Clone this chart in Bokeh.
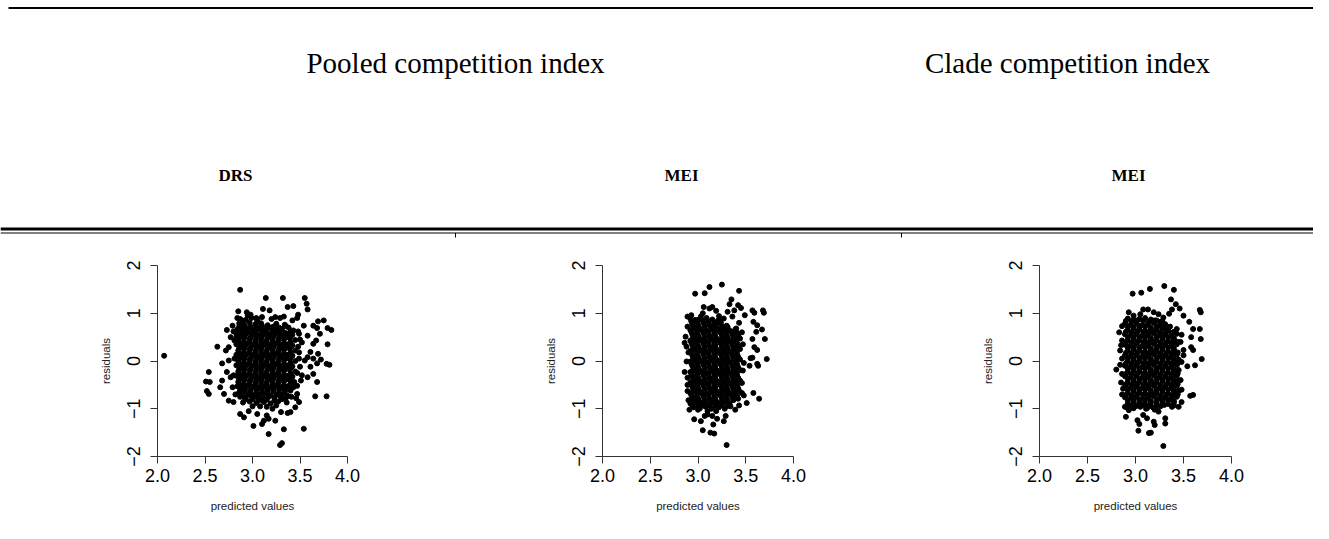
from bokeh.plotting import figure
from bokeh.layouts import column, row
from bokeh.models import Range1d, FixedTicker, Label
from bokeh.embed import file_html
from bokeh.resources import INLINE

# ---------------- data ----------------
header_titles = ["Pooled competition index", "Clade competition index"]
sub_titles = ["DRS", "MEI", "MEI"]
x_label = "predicted values"
y_label = "residuals"
x_ticks = [2.0, 2.5, 3.0, 3.5, 4.0]
x_tick_labels = ["2.0", "2.5", "3.0", "3.5", "4.0"]
y_ticks = [-2, -1, 0, 1, 2]
y_tick_labels = ["\u22122", "\u22121", "0", "1", "2"]

# Panel 1 (Pooled, DRS)
p1_core = [
    (2.86,0.79),(2.91,0.76),(2.97,0.80),(3.03,0.77),(3.09,0.79),(3.16,0.75),(3.25,0.78),(3.34,0.76),
    (2.84,0.66),(2.89,0.69),(2.95,0.67),(3.01,0.65),(3.07,0.68),(3.13,0.66),(3.19,0.69),(3.25,0.65),(3.31,0.67),(3.38,0.70),(3.43,0.64),
    (2.83,0.57),(2.88,0.55),(2.94,0.58),(3.00,0.56),(3.06,0.54),(3.12,0.57),(3.18,0.55),(3.24,0.58),(3.30,0.54),(3.36,0.57),(3.42,0.55),
    (2.85,0.44),(2.91,0.47),(2.97,0.45),(3.03,0.43),(3.09,0.46),(3.15,0.44),(3.21,0.47),(3.27,0.43),(3.33,0.45),(3.39,0.48),(3.45,0.44),
    (2.83,0.35),(2.88,0.33),(2.94,0.36),(3.00,0.34),(3.06,0.32),(3.12,0.35),(3.18,0.33),(3.24,0.36),(3.30,0.32),(3.36,0.35),(3.42,0.33),
    (2.85,0.22),(2.91,0.25),(2.97,0.23),(3.03,0.21),(3.09,0.24),(3.15,0.22),(3.21,0.25),(3.27,0.21),(3.33,0.23),(3.39,0.26),(3.45,0.22),
    (2.83,0.13),(2.88,0.11),(2.94,0.14),(3.00,0.12),(3.06,0.10),(3.12,0.13),(3.18,0.11),(3.24,0.14),(3.30,0.10),(3.36,0.13),(3.42,0.11),
    (2.85,0.00),(2.91,0.03),(2.97,0.01),(3.03,-0.01),(3.09,0.02),(3.15,0.00),(3.21,0.03),(3.27,-0.01),(3.33,0.01),(3.39,0.04),(3.45,0.00),
    (2.83,-0.09),(2.88,-0.11),(2.94,-0.08),(3.00,-0.10),(3.06,-0.12),(3.12,-0.09),(3.18,-0.11),(3.24,-0.08),(3.30,-0.12),(3.36,-0.09),(3.42,-0.11),
    (2.85,-0.22),(2.91,-0.19),(2.97,-0.21),(3.03,-0.23),(3.09,-0.20),(3.15,-0.22),(3.21,-0.19),(3.27,-0.23),(3.33,-0.21),(3.39,-0.18),(3.45,-0.22),
    (2.83,-0.31),(2.88,-0.33),(2.94,-0.30),(3.00,-0.32),(3.06,-0.34),(3.12,-0.31),(3.18,-0.33),(3.24,-0.30),(3.30,-0.34),(3.36,-0.31),(3.42,-0.33),
    (2.85,-0.44),(2.91,-0.41),(2.97,-0.43),(3.03,-0.45),(3.09,-0.42),(3.15,-0.44),(3.21,-0.41),(3.27,-0.45),(3.33,-0.43),(3.39,-0.40),(3.44,-0.44),
    (2.84,-0.53),(2.89,-0.55),(2.95,-0.52),(3.01,-0.54),(3.07,-0.56),(3.13,-0.53),(3.19,-0.55),(3.25,-0.52),(3.31,-0.56),(3.37,-0.53),(3.43,-0.55),
    (2.86,-0.66),(2.92,-0.63),(2.98,-0.65),(3.04,-0.67),(3.10,-0.64),(3.16,-0.66),(3.22,-0.63),(3.28,-0.67),(3.34,-0.65),(3.40,-0.62),
    (2.87,-0.75),(2.93,-0.77),(2.99,-0.74),(3.05,-0.76),(3.11,-0.78),(3.17,-0.75),(3.23,-0.77),(3.29,-0.74),(3.35,-0.78),(3.41,-0.75),
    (2.90,-0.87),(2.97,-0.85),(3.04,-0.88),(3.12,-0.86),(3.19,-0.89),(3.27,-0.85),(3.36,-0.87),
    (2.87,0.88),(2.93,0.86),(2.99,0.90),(3.05,0.87),
]
p1_fill = [
    (2.86,0.72),(2.92,0.73),(2.98,0.71),(3.04,0.72),(3.10,0.74),(3.16,0.71),(3.22,0.72),(3.28,0.70),(3.35,0.73),
    (2.86,0.61),(2.91,0.62),(2.97,0.60),(3.03,0.61),(3.09,0.63),(3.15,0.60),(3.21,0.62),(3.28,0.61),(3.34,0.59),(3.40,0.62),
    (2.86,0.50),(2.92,0.51),(2.98,0.49),(3.04,0.50),(3.10,0.52),(3.16,0.49),(3.22,0.51),(3.28,0.50),(3.34,0.48),(3.40,0.51),
    (2.86,0.39),(2.91,0.40),(2.97,0.38),(3.03,0.39),(3.09,0.41),(3.15,0.38),(3.21,0.40),(3.27,0.39),(3.33,0.37),(3.40,0.40),
    (2.86,0.28),(2.92,0.29),(2.98,0.27),(3.04,0.28),(3.10,0.30),(3.16,0.27),(3.22,0.29),(3.28,0.28),(3.34,0.26),(3.40,0.29),
    (2.86,0.17),(2.91,0.18),(2.97,0.16),(3.03,0.17),(3.09,0.19),(3.15,0.16),(3.21,0.18),(3.27,0.17),(3.33,0.15),(3.40,0.18),
    (2.86,0.06),(2.92,0.07),(2.98,0.05),(3.04,0.06),(3.10,0.08),(3.16,0.05),(3.22,0.07),(3.28,0.06),(3.34,0.04),(3.40,0.07),
    (2.86,-0.05),(2.91,-0.04),(2.97,-0.06),(3.03,-0.05),(3.09,-0.03),(3.15,-0.06),(3.21,-0.04),(3.27,-0.05),(3.33,-0.07),(3.40,-0.04),
    (2.86,-0.16),(2.92,-0.15),(2.98,-0.17),(3.04,-0.16),(3.10,-0.14),(3.16,-0.17),(3.22,-0.15),(3.28,-0.16),(3.34,-0.18),(3.40,-0.15),
    (2.86,-0.27),(2.91,-0.26),(2.97,-0.28),(3.03,-0.27),(3.09,-0.25),(3.15,-0.28),(3.21,-0.26),(3.27,-0.27),(3.33,-0.29),(3.40,-0.26),
    (2.86,-0.38),(2.92,-0.37),(2.98,-0.39),(3.04,-0.38),(3.10,-0.36),(3.16,-0.39),(3.22,-0.37),(3.28,-0.38),(3.34,-0.40),(3.40,-0.37),
    (2.86,-0.49),(2.91,-0.48),(2.97,-0.50),(3.03,-0.49),(3.09,-0.47),(3.15,-0.50),(3.21,-0.48),(3.27,-0.49),(3.33,-0.51),(3.40,-0.48),
    (2.87,-0.60),(2.92,-0.59),(2.98,-0.61),(3.04,-0.60),(3.10,-0.58),(3.16,-0.61),(3.22,-0.59),(3.28,-0.60),(3.34,-0.62),(3.39,-0.59),
    (2.89,-0.71),(2.95,-0.70),(3.01,-0.72),(3.07,-0.71),(3.13,-0.69),(3.19,-0.72),(3.25,-0.70),(3.31,-0.71),(3.37,-0.73),
    (2.92,-0.81),(3.00,-0.80),(3.07,-0.82),(3.15,-0.81),(3.23,-0.83),(3.31,-0.80),
]
p1_outer = [
    (2.07,0.11),(2.87,1.49),(3.14,1.32),(3.32,1.32),(3.55,1.32),(3.57,1.20),(3.11,1.09),(3.18,1.06),
    (3.43,1.15),(3.37,1.13),(3.48,0.97),(3.58,1.08),(2.85,1.04),(2.94,1.02),(2.98,0.97),(3.04,0.90),
    (3.24,0.92),(3.29,0.90),(3.33,0.93),(3.42,0.85),(3.47,0.90),(2.84,0.90),(2.89,0.85),(3.05,0.83),
    (3.69,0.83),(3.75,0.85),(3.64,0.74),(3.79,0.69),(3.83,0.65),(3.68,0.69),
    (3.54,0.74),(3.49,0.57),(3.58,0.53),(3.71,0.57),(3.67,0.43),(3.64,0.36),(3.79,0.35),(3.52,0.39),
    (3.61,0.19),(3.69,0.15),(3.58,0.08),(3.64,0.05),(3.72,0.03),(3.55,0.01),(3.49,0.05),(3.61,-0.12),
    (3.68,-0.05),(3.78,-0.06),(3.81,-0.08),(3.52,-0.30),(3.58,-0.34),(3.64,-0.27),(3.68,-0.44),(3.51,-0.41),
    (3.66,-0.74),(3.78,-0.74),(3.47,-0.69),(3.49,-0.86),(3.54,-1.42),
    (3.30,-1.07),(3.37,-1.09),(3.21,-1.00),(3.08,-0.95),(2.96,-1.05),(2.87,-1.11),(2.91,-1.18),(3.01,-1.36),
    (3.10,-1.32),(3.12,-1.25),(3.17,-1.21),(3.24,-1.25),(3.17,-1.53),(3.33,-1.43),(3.29,-1.76),(3.31,-1.72),
    (3.15,-1.14),(3.05,-1.11),(3.45,-0.97),(3.40,-1.07),
    (2.54,-0.23),(2.55,-0.44),(2.51,-0.43),(2.52,-0.63),(2.54,-0.69),(2.63,0.30),(2.68,-0.41),(2.66,-0.55),
    (2.70,-0.69),(2.73,0.65),(2.77,0.50),(2.75,0.29),(2.72,0.22),(2.75,0.01),(2.68,-0.05),(2.73,-0.23),
    (2.77,-0.34),(2.79,-0.55),(2.75,-0.83),(2.80,-0.86),(2.83,0.50),(2.79,0.74),(2.81,0.43),
    (3.48,0.30),(3.50,-0.12),(3.47,-0.52),(3.49,0.18),
    (2.80,0.62),(2.81,0.05),(2.80,-0.30),(2.82,-0.70),(3.48,0.62),(3.50,0.45),(3.47,-0.25),(3.46,-0.78),
    (2.95,0.95),(3.10,0.92),(3.20,0.88),(3.00,-0.95),(3.15,-0.96),(3.25,-0.93),
]

# Panel 2 (Pooled, MEI)
p2_core = [
    (2.92,0.89),(2.97,0.86),(3.03,0.88),(3.09,0.90),(3.15,0.87),(3.21,0.85),
    (2.94,0.78),(3.00,0.76),(3.06,0.79),(3.12,0.75),(3.18,0.77),(3.24,0.80),(3.30,0.74),
    (2.92,0.65),(2.97,0.68),(3.03,0.66),(3.09,0.64),(3.15,0.67),(3.21,0.65),(3.27,0.68),(3.33,0.64),(3.39,0.66),
    (2.94,0.56),(3.00,0.54),(3.06,0.57),(3.12,0.53),(3.18,0.55),(3.24,0.58),(3.30,0.54),(3.36,0.56),(3.42,0.53),
    (2.92,0.43),(2.97,0.46),(3.03,0.44),(3.09,0.42),(3.15,0.45),(3.21,0.43),(3.27,0.46),(3.33,0.42),(3.39,0.44),(3.44,0.47),
    (2.94,0.34),(3.00,0.32),(3.06,0.35),(3.12,0.31),(3.18,0.33),(3.24,0.36),(3.30,0.32),(3.36,0.34),(3.42,0.31),
    (2.92,0.21),(2.97,0.24),(3.03,0.22),(3.09,0.20),(3.15,0.23),(3.21,0.21),(3.27,0.24),(3.33,0.20),(3.39,0.22),(3.44,0.25),
    (2.94,0.12),(3.00,0.10),(3.06,0.13),(3.12,0.09),(3.18,0.11),(3.24,0.14),(3.30,0.10),(3.36,0.12),(3.42,0.09),
    (2.92,-0.01),(2.97,0.02),(3.03,0.00),(3.09,-0.02),(3.15,0.01),(3.21,-0.01),(3.27,0.02),(3.33,-0.02),(3.39,0.00),(3.44,0.03),
    (2.94,-0.10),(3.00,-0.12),(3.06,-0.09),(3.12,-0.13),(3.18,-0.11),(3.24,-0.08),(3.30,-0.12),(3.36,-0.10),(3.42,-0.13),
    (2.92,-0.23),(2.97,-0.20),(3.03,-0.22),(3.09,-0.24),(3.15,-0.21),(3.21,-0.23),(3.27,-0.20),(3.33,-0.24),(3.39,-0.22),(3.44,-0.19),
    (2.94,-0.32),(3.00,-0.34),(3.06,-0.31),(3.12,-0.35),(3.18,-0.33),(3.24,-0.30),(3.30,-0.34),(3.36,-0.32),(3.42,-0.35),
    (2.92,-0.45),(2.97,-0.42),(3.03,-0.44),(3.09,-0.46),(3.15,-0.43),(3.21,-0.45),(3.27,-0.42),(3.33,-0.46),(3.39,-0.44),(3.44,-0.41),
    (2.94,-0.54),(3.00,-0.56),(3.06,-0.53),(3.12,-0.57),(3.18,-0.55),(3.24,-0.52),(3.30,-0.56),(3.36,-0.54),(3.42,-0.57),
    (2.92,-0.67),(2.97,-0.64),(3.03,-0.66),(3.09,-0.68),(3.15,-0.65),(3.21,-0.67),(3.27,-0.64),(3.33,-0.68),(3.39,-0.66),
    (2.94,-0.76),(3.00,-0.78),(3.06,-0.75),(3.12,-0.79),(3.18,-0.77),(3.24,-0.74),(3.30,-0.78),(3.36,-0.76),(3.42,-0.79),
    (2.92,-0.89),(2.97,-0.86),(3.03,-0.88),(3.09,-0.90),(3.15,-0.87),(3.21,-0.89),(3.27,-0.86),(3.33,-0.90),
    (2.95,-0.97),(3.02,-0.99),(3.08,-0.96),(3.14,-1.00),(3.22,-0.97),
]
p2_fill = [
    (2.93,0.83),(2.99,0.82),(3.05,0.84),(3.11,0.83),(3.17,0.81),(3.23,0.84),
    (2.95,0.72),(3.01,0.71),(3.07,0.73),(3.13,0.72),(3.19,0.70),(3.25,0.73),(3.31,0.71),
    (2.93,0.61),(2.99,0.60),(3.05,0.62),(3.11,0.61),(3.17,0.59),(3.23,0.62),(3.29,0.60),(3.35,0.61),(3.41,0.59),
    (2.95,0.50),(3.01,0.49),(3.07,0.51),(3.13,0.50),(3.19,0.48),(3.25,0.51),(3.31,0.49),(3.37,0.50),(3.43,0.48),
    (2.93,0.39),(2.99,0.38),(3.05,0.40),(3.11,0.39),(3.17,0.37),(3.23,0.40),(3.29,0.38),(3.35,0.39),(3.41,0.37),
    (2.95,0.28),(3.01,0.27),(3.07,0.29),(3.13,0.28),(3.19,0.26),(3.25,0.29),(3.31,0.27),(3.37,0.28),(3.43,0.26),
    (2.93,0.17),(2.99,0.16),(3.05,0.18),(3.11,0.17),(3.17,0.15),(3.23,0.18),(3.29,0.16),(3.35,0.17),(3.41,0.15),
    (2.95,0.06),(3.01,0.05),(3.07,0.07),(3.13,0.06),(3.19,0.04),(3.25,0.07),(3.31,0.05),(3.37,0.06),(3.43,0.04),
    (2.93,-0.05),(2.99,-0.06),(3.05,-0.04),(3.11,-0.05),(3.17,-0.07),(3.23,-0.04),(3.29,-0.06),(3.35,-0.05),(3.41,-0.07),
    (2.95,-0.16),(3.01,-0.17),(3.07,-0.15),(3.13,-0.16),(3.19,-0.18),(3.25,-0.15),(3.31,-0.17),(3.37,-0.16),(3.43,-0.18),
    (2.93,-0.27),(2.99,-0.28),(3.05,-0.26),(3.11,-0.27),(3.17,-0.29),(3.23,-0.26),(3.29,-0.28),(3.35,-0.27),(3.41,-0.29),
    (2.95,-0.38),(3.01,-0.39),(3.07,-0.37),(3.13,-0.38),(3.19,-0.40),(3.25,-0.37),(3.31,-0.39),(3.37,-0.38),(3.43,-0.40),
    (2.93,-0.49),(2.99,-0.50),(3.05,-0.48),(3.11,-0.49),(3.17,-0.51),(3.23,-0.48),(3.29,-0.50),(3.35,-0.49),(3.41,-0.51),
    (2.95,-0.60),(3.01,-0.61),(3.07,-0.59),(3.13,-0.60),(3.19,-0.62),(3.25,-0.59),(3.31,-0.61),(3.37,-0.60),(3.43,-0.62),
    (2.93,-0.71),(2.99,-0.72),(3.05,-0.70),(3.11,-0.71),(3.17,-0.73),(3.23,-0.70),(3.29,-0.72),(3.35,-0.71),(3.41,-0.73),
    (2.95,-0.82),(3.01,-0.83),(3.07,-0.81),(3.13,-0.82),(3.19,-0.84),(3.25,-0.81),(3.31,-0.83),(3.37,-0.82),
    (2.94,-0.93),(3.00,-0.94),(3.06,-0.92),(3.12,-0.93),(3.18,-0.95),(3.25,-0.92),(3.31,-0.94),
]
p2_outer = [
    (3.25,1.60),(3.12,1.55),(2.97,1.41),(3.07,1.42),(3.43,1.47),(3.35,1.29),(3.33,1.19),(3.42,1.17),
    (3.45,1.11),(3.38,1.06),(3.31,1.03),(3.49,0.96),(3.57,1.06),(3.59,1.01),(3.68,1.06),(3.69,1.01),
    (3.58,0.82),(3.62,0.75),(3.67,0.66),(3.61,0.61),(3.70,0.46),(3.57,0.46),(3.59,0.29),(3.62,0.23),
    (3.55,0.06),(3.57,0.07),(3.72,0.04),(3.62,-0.06),(3.63,-0.10),(3.54,-0.10),(3.48,-0.04),(3.46,-0.46),
    (3.46,-0.67),(3.48,-0.72),(3.58,-0.67),(3.64,-0.79),(3.51,-0.88),
    (2.86,-0.23),(2.87,0.51),(2.86,0.38),(2.88,-0.01),(2.89,-0.63),(2.91,-1.02),(2.96,-1.22),(3.03,-1.26),
    (3.05,-1.45),(3.07,-1.15),(3.10,-1.12),(3.15,-1.15),(3.16,-1.33),(3.13,-1.50),(3.17,-1.52),(3.20,-1.21),
    (3.27,-1.26),(3.29,-1.15),(3.30,-1.76),(3.19,-1.05),(3.34,-0.95),(3.39,-1.02),(3.43,-0.93),(3.00,-1.02),
    (2.89,0.93),(2.93,0.96),(3.00,0.86),(3.03,0.93),(3.06,1.13),(3.12,1.10),(3.15,1.13),(3.19,1.05),
    (3.22,0.94),(3.27,0.89),(3.36,0.93),(3.20,0.79),(3.25,0.70),(3.40,0.68),(3.43,0.80),
    (2.89,0.72),(2.90,0.18),(2.89,-0.35),(2.90,-0.82),
    (2.88,0.30),(2.89,-0.50),(3.47,0.35),(3.47,-0.20),(3.46,0.60),(3.05,1.00),(3.10,-1.05),(3.28,-1.00),
]

# Panel 3 (Clade, MEI)
p3_core = [
    (2.92,0.89),(2.98,0.86),(3.04,0.88),(3.10,0.90),(3.16,0.87),(3.22,0.85),(3.28,0.83),
    (2.89,0.78),(2.95,0.76),(3.01,0.79),(3.07,0.75),(3.13,0.77),(3.19,0.80),(3.25,0.74),(3.31,0.71),
    (2.92,0.65),(2.98,0.68),(3.04,0.66),(3.10,0.64),(3.16,0.67),(3.22,0.65),(3.28,0.68),(3.34,0.64),(3.40,0.61),
    (2.89,0.56),(2.95,0.54),(3.01,0.57),(3.07,0.53),(3.13,0.55),(3.19,0.58),(3.25,0.54),(3.31,0.56),(3.37,0.53),(3.43,0.57),
    (2.92,0.43),(2.98,0.46),(3.04,0.44),(3.10,0.42),(3.16,0.45),(3.22,0.43),(3.28,0.46),(3.34,0.42),(3.40,0.44),
    (2.89,0.34),(2.95,0.32),(3.01,0.35),(3.07,0.31),(3.13,0.33),(3.19,0.36),(3.25,0.32),(3.31,0.34),(3.37,0.31),(3.43,0.35),
    (2.92,0.21),(2.98,0.24),(3.04,0.22),(3.10,0.20),(3.16,0.23),(3.22,0.21),(3.28,0.24),(3.34,0.20),(3.40,0.22),
    (2.89,0.12),(2.95,0.10),(3.01,0.13),(3.07,0.09),(3.13,0.11),(3.19,0.14),(3.25,0.10),(3.31,0.12),(3.37,0.09),(3.43,0.13),
    (2.92,-0.01),(2.98,0.02),(3.04,0.00),(3.10,-0.02),(3.16,0.01),(3.22,-0.01),(3.28,0.02),(3.34,-0.02),(3.40,0.00),(3.45,0.03),
    (2.89,-0.10),(2.95,-0.12),(3.01,-0.09),(3.07,-0.13),(3.13,-0.11),(3.19,-0.08),(3.25,-0.12),(3.31,-0.10),(3.37,-0.13),(3.43,-0.09),
    (2.92,-0.23),(2.98,-0.20),(3.04,-0.22),(3.10,-0.24),(3.16,-0.21),(3.22,-0.23),(3.28,-0.20),(3.34,-0.24),(3.40,-0.22),(3.45,-0.19),
    (2.89,-0.32),(2.95,-0.34),(3.01,-0.31),(3.07,-0.35),(3.13,-0.33),(3.19,-0.30),(3.25,-0.34),(3.31,-0.32),(3.37,-0.35),(3.43,-0.31),
    (2.92,-0.45),(2.98,-0.42),(3.04,-0.44),(3.10,-0.46),(3.16,-0.43),(3.22,-0.45),(3.28,-0.42),(3.34,-0.46),(3.40,-0.44),(3.45,-0.41),
    (2.89,-0.54),(2.95,-0.56),(3.01,-0.53),(3.07,-0.57),(3.13,-0.55),(3.19,-0.52),(3.25,-0.56),(3.31,-0.54),(3.37,-0.57),(3.43,-0.53),
    (2.92,-0.67),(2.98,-0.64),(3.04,-0.66),(3.10,-0.68),(3.16,-0.65),(3.22,-0.67),(3.28,-0.64),(3.34,-0.68),(3.40,-0.66),(3.45,-0.63),
    (2.89,-0.76),(2.95,-0.78),(3.01,-0.75),(3.07,-0.79),(3.13,-0.77),(3.19,-0.74),(3.25,-0.78),(3.31,-0.76),(3.37,-0.79),(3.43,-0.75),
    (2.92,-0.89),(2.98,-0.86),(3.04,-0.88),(3.10,-0.90),(3.16,-0.87),(3.22,-0.89),(3.28,-0.86),(3.34,-0.90),(3.40,-0.87),
    (2.91,-0.97),(2.98,-0.99),(3.05,-0.96),(3.11,-1.00),(3.18,-0.97),(3.26,-0.95),
]
p3_fill = [
    (2.90,0.84),(2.96,0.83),(3.02,0.85),(3.08,0.84),(3.14,0.82),(3.20,0.85),(3.26,0.82),
    (2.92,0.72),(2.98,0.71),(3.04,0.73),(3.10,0.72),(3.16,0.70),(3.22,0.73),(3.28,0.71),(3.34,0.70),
    (2.90,0.61),(2.96,0.60),(3.02,0.62),(3.08,0.61),(3.14,0.59),(3.20,0.62),(3.26,0.60),(3.32,0.61),(3.38,0.59),
    (2.92,0.50),(2.98,0.49),(3.04,0.51),(3.10,0.50),(3.16,0.48),(3.22,0.51),(3.28,0.49),(3.34,0.50),(3.40,0.48),
    (2.90,0.39),(2.96,0.38),(3.02,0.40),(3.08,0.39),(3.14,0.37),(3.20,0.40),(3.26,0.38),(3.32,0.39),(3.38,0.37),(3.44,0.40),
    (2.92,0.28),(2.98,0.27),(3.04,0.29),(3.10,0.28),(3.16,0.26),(3.22,0.29),(3.28,0.27),(3.34,0.28),(3.40,0.26),
    (2.90,0.17),(2.96,0.16),(3.02,0.18),(3.08,0.17),(3.14,0.15),(3.20,0.18),(3.26,0.16),(3.32,0.17),(3.38,0.15),(3.44,0.18),
    (2.92,0.06),(2.98,0.05),(3.04,0.07),(3.10,0.06),(3.16,0.04),(3.22,0.07),(3.28,0.05),(3.34,0.06),(3.40,0.04),
    (2.90,-0.05),(2.96,-0.06),(3.02,-0.04),(3.08,-0.05),(3.14,-0.07),(3.20,-0.04),(3.26,-0.06),(3.32,-0.05),(3.38,-0.07),(3.44,-0.04),
    (2.92,-0.16),(2.98,-0.17),(3.04,-0.15),(3.10,-0.16),(3.16,-0.18),(3.22,-0.15),(3.28,-0.17),(3.34,-0.16),(3.40,-0.18),
    (2.90,-0.27),(2.96,-0.28),(3.02,-0.26),(3.08,-0.27),(3.14,-0.29),(3.20,-0.26),(3.26,-0.28),(3.32,-0.27),(3.38,-0.29),(3.44,-0.26),
    (2.92,-0.38),(2.98,-0.39),(3.04,-0.37),(3.10,-0.38),(3.16,-0.40),(3.22,-0.37),(3.28,-0.39),(3.34,-0.38),(3.40,-0.40),
    (2.90,-0.49),(2.96,-0.50),(3.02,-0.48),(3.08,-0.49),(3.14,-0.51),(3.20,-0.48),(3.26,-0.50),(3.32,-0.49),(3.38,-0.51),(3.44,-0.48),
    (2.92,-0.60),(2.98,-0.61),(3.04,-0.59),(3.10,-0.60),(3.16,-0.62),(3.22,-0.59),(3.28,-0.61),(3.34,-0.60),(3.40,-0.62),
    (2.90,-0.71),(2.96,-0.72),(3.02,-0.70),(3.08,-0.71),(3.14,-0.73),(3.20,-0.70),(3.26,-0.72),(3.32,-0.71),(3.38,-0.73),(3.44,-0.70),
    (2.92,-0.82),(2.98,-0.83),(3.04,-0.81),(3.10,-0.82),(3.16,-0.84),(3.22,-0.81),(3.28,-0.83),(3.34,-0.82),(3.40,-0.84),
    (2.94,-0.93),(3.01,-0.94),(3.08,-0.92),(3.15,-0.93),(3.22,-0.95),(3.30,-0.92),
]
p3_outer = [
    (3.30,1.57),(3.40,1.49),(3.15,1.51),(3.06,1.43),(2.97,1.41),(3.37,1.29),(3.42,1.19),(3.46,1.10),
    (3.38,1.08),(3.50,0.95),(3.56,0.82),(3.60,0.67),(3.67,1.07),(3.68,1.02),(3.67,0.67),(3.68,0.46),
    (3.58,0.50),(3.58,0.29),(3.60,0.23),(3.50,0.23),(3.50,0.12),(3.54,-0.11),(3.62,-0.09),(3.69,0.04),
    (3.48,-0.02),(3.57,-0.73),(3.60,-0.71),(3.48,-0.86),(3.45,-0.96),
    (2.80,-0.18),(2.83,0.60),(2.86,0.43),(2.84,0.22),(2.86,0.05),(2.86,-0.27),(2.89,-0.96),(2.90,-1.17),
    (2.93,-1.03),(2.98,-0.96),(3.02,-1.24),(3.04,-1.32),(3.03,-1.46),(3.08,-1.13),(3.12,-1.20),(3.14,-1.51),
    (3.16,-1.50),(3.19,-1.27),(3.20,-1.34),(3.24,-1.06),(3.31,-1.20),(3.31,-1.31),(3.29,-1.78),(3.38,-0.96),
    (3.40,-0.93),(3.12,-0.99),
    (2.93,1.02),(2.98,0.95),(3.08,1.08),(3.13,1.08),(3.19,1.02),(3.24,0.98),(3.29,0.91),(3.35,0.99),
    (3.31,0.77),(3.36,0.72),(3.43,0.67),
    (2.86,0.73),(2.85,-0.45),(2.86,-0.70),(3.47,0.40),(3.47,-0.40),
    (2.84,-0.08),(2.85,0.33),(2.87,-0.58),(3.48,0.55),(3.48,-0.60),(3.05,0.98),(3.20,-1.02),
]

panels = [p1_core + p1_fill + p1_outer,
          p2_core + p2_fill + p2_outer,
          p3_core + p3_fill + p3_outer]

# ---------------- layout ----------------
TOTAL_W = 1313
HEADER_H = 240
PANEL_H = 283
SERIF = "Liberation Serif"
SANS = "Liberation Sans"

header = figure(width=TOTAL_W, height=HEADER_H, x_range=Range1d(0, TOTAL_W),
                y_range=Range1d(HEADER_H, 0), toolbar_location=None,
                output_backend="svg", x_axis_location=None, y_axis_location=None,
                min_border=0)
header.grid.visible = False
header.outline_line_color = None

# table rules
header.line([8, TOTAL_W], [7.5, 7.5], line_color="black", line_width=2)
header.line([0, TOTAL_W], [228.5, 228.5], line_color="black", line_width=3)
header.line([0, TOTAL_W], [232.5, 232.5], line_color="black", line_width=1)
for cx in (455, 901):
    header.line([cx, cx], [232.5, 237], line_color="black", line_width=1)

title_pos = [(455, 62), (1067, 62)]
for (tx, ty), t in zip(title_pos, header_titles):
    header.add_layout(Label(x=tx, y=ty, text=t, text_align="center", text_baseline="middle",
                            text_font=SERIF, text_font_size="29px", text_color="black"))
sub_pos = [(235, 175), (681, 175), (1128, 175)]
for (tx, ty), t in zip(sub_pos, sub_titles):
    header.add_layout(Label(x=tx, y=ty, text=t, text_align="center", text_baseline="middle",
                            text_font=SERIF, text_font_size="17px", text_font_style="bold",
                            text_color="black"))


def make_panel(pts, width, left, right):
    xs = [p[0] for p in pts]
    ys = [p[1] for p in pts]
    p = figure(width=width, height=PANEL_H, x_range=Range1d(2, 4), y_range=Range1d(-2, 2),
               toolbar_location=None, output_backend="svg",
               min_border_left=left, min_border_right=right,
               min_border_top=25, min_border_bottom=PANEL_H - 25 - 191)
    p.grid.visible = False
    p.outline_line_color = None
    p.scatter(xs, ys, size=5, color="black", marker="circle")

    p.xaxis.ticker = FixedTicker(ticks=x_ticks)
    p.xaxis.major_label_overrides = {t: l for t, l in zip(x_ticks, x_tick_labels)}
    p.yaxis.ticker = FixedTicker(ticks=y_ticks)
    p.yaxis.major_label_overrides = {t: l for t, l in zip(y_ticks, y_tick_labels)}
    p.yaxis.major_label_orientation = "vertical"
    for ax in (p.xaxis[0], p.yaxis[0]):
        ax.axis_line_color = "#333333"
        ax.axis_line_width = 1
        ax.major_tick_line_color = "#333333"
        ax.major_tick_out = 7
        ax.major_tick_in = 0
        ax.minor_tick_line_color = None
        ax.major_label_text_font = SANS
        ax.major_label_text_font_size = "18px"
        ax.major_label_text_color = "black"
        ax.axis_label_text_font = SANS
        ax.axis_label_text_font_size = "11.5px"
        ax.axis_label_text_font_style = "normal"
        ax.axis_label_text_color = "#222222"
    p.xaxis.axis_label = x_label
    p.yaxis.axis_label = y_label
    p.xaxis.major_label_standoff = 5
    p.xaxis.axis_label_standoff = 15
    p.yaxis.major_label_standoff = 11
    p.yaxis.axis_label_standoff = 12
    return p


f1 = make_panel(panels[0], 453, 157, 453 - 157 - 190)
f2 = make_panel(panels[1], 438, 149, 438 - 149 - 191)
f3 = make_panel(panels[2], TOTAL_W - 891, 148, TOTAL_W - 891 - 148 - 192)

layout = column(header, row(f1, f2, f3, spacing=0), spacing=0)

open("out.html", "w").write(file_html(layout, INLINE))
